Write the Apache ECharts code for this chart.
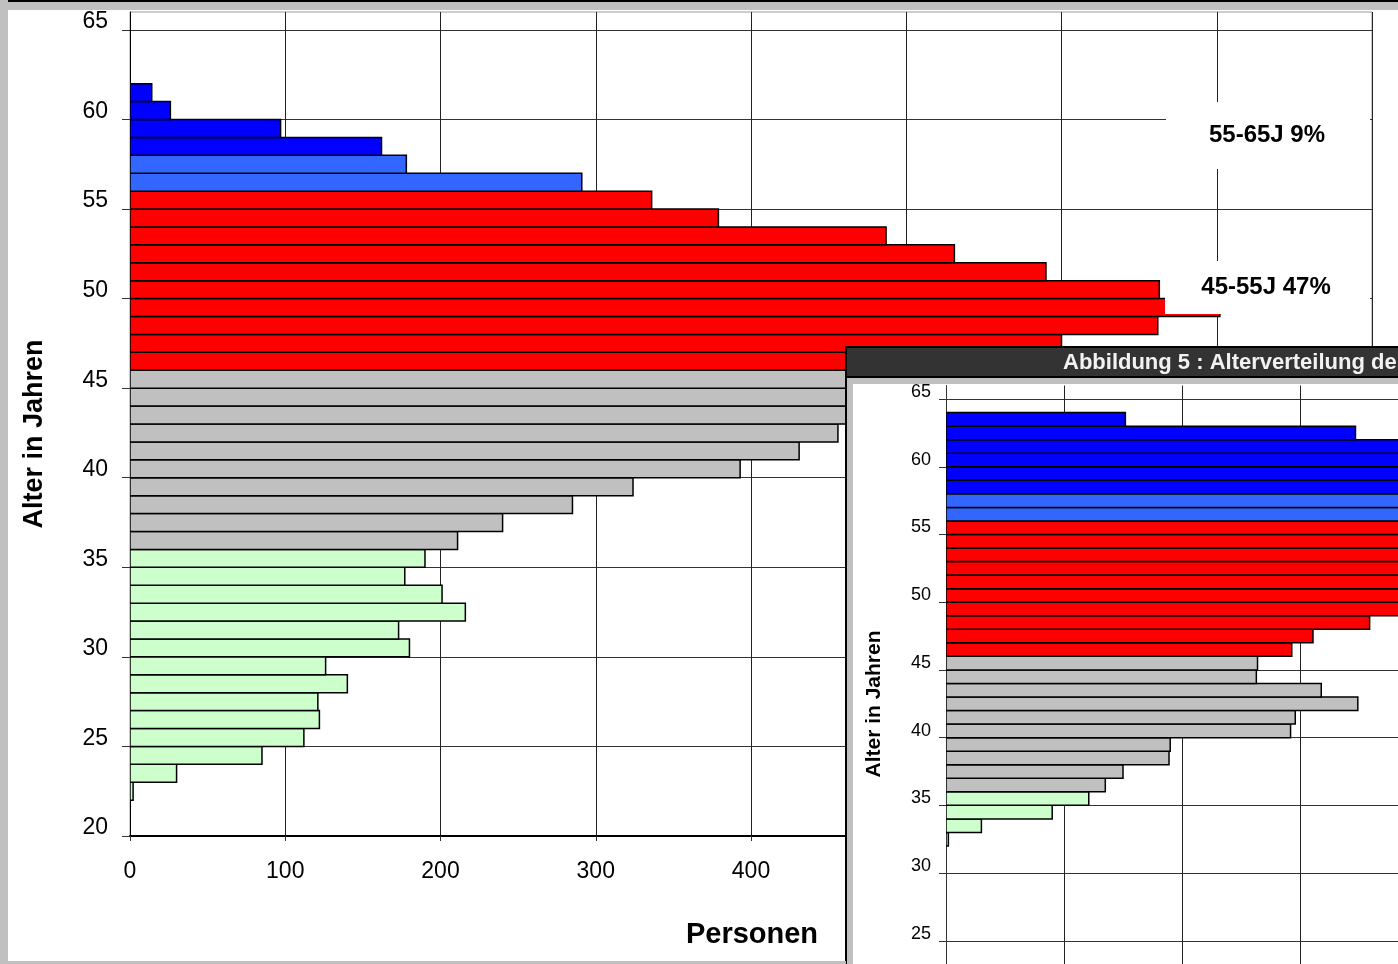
<!DOCTYPE html>
<html>
<head>
<meta charset="utf-8">
<script src="https://cdn.jsdelivr.net/npm/echarts@6/dist/echarts.min.js"></script>
<style>
    html, body { margin: 0; padding: 0; background: #fff; }
    #chart { width: 1398px; height: 964px; }
</style>
</head>
<body>
<div id="chart"></div>
<script>
// y axis tick labels (age in years)
var yTicks = [20, 25, 30, 35, 40, 45, 50, 55, 60, 65];

// main chart: persons per age year
var mainAges = [22, 23, 24, 25, 26, 27, 28, 29, 30, 31, 32, 33, 34, 35, 36, 37, 38, 39, 40, 41,
                42, 43, 44, 45, 46, 47, 48, 49, 50, 51, 52, 53, 54, 55, 56, 57, 58, 59, 60, 61];
var mainCounts = [2, 30, 85, 112, 122, 121, 140, 126, 180, 173, 216, 201, 177, 190, 211, 240, 285, 324, 393, 431,
                  456, 480, 510, 540, 610, 600, 662, 702, 663, 590, 531, 487, 379, 336, 291, 178, 162, 97, 26, 14];

// overlapping window (Abbildung 5)
var insetAges = [32, 33, 34, 35, 36, 37, 38, 39, 40, 41, 42, 43, 44, 45, 46, 47,
                 48, 49, 50, 51, 52, 53, 54, 55, 56, 57, 58, 59, 60, 61, 62, 63];
var insetCounts = [2, 30, 90, 121, 135, 150, 189, 190, 292, 296, 349, 318, 263, 264, 293, 311,
                   359, 420, 460, 500, 520, 540, 560, 580, 560, 520, 480, 450, 430, 400, 347, 152];

var groupLabels = ['55-65J 9%', '45-55J 47%'];
var insetTitle = 'Abbildung 5 : Alterverteilung der';

function ageColor(age) {
    if (age >= 58) return '#0000ff';
    if (age >= 56) return '#3366ff';
    if (age >= 46) return '#ff0000';
    if (age >= 36) return '#c0c0c0';
    return '#ccffcc';
}

function barItem(params, api) {
    var age = api.value(0);
    var p0 = api.coord([0, age + 1]);
    var p1 = api.coord([api.value(1), age]);
    return {
        type: 'rect',
        shape: {x: p0[0], y: p0[1], width: p1[0] - p0[0], height: p1[1] - p0[1]},
        style: {fill: ageColor(age), stroke: '#000', lineWidth: 1.5}
    };
}

function pairs(ages, counts) {
    return ages.map(function (a, i) { return [a, counts[i]]; });
}

function ageLabel(v) {
    return yTicks.indexOf(v) >= 0 ? String(v) : '';
}

var font = "'Liberation Sans', Arial, sans-serif";

var option = {
    animation: false,
    backgroundColor: '#fff',
    textStyle: {fontFamily: font},
    grid: [
        {left: 130, top: 12, width: 1242, height: 824, outerBoundsMode: 'none', containLabel: false,
         show: true, borderColor: '#999', borderWidth: 1, backgroundColor: 'transparent'},
        {left: 946, top: 385.5, width: 944, height: 623, outerBoundsMode: 'none', containLabel: false}
    ],
    xAxis: [
        {
            gridIndex: 0, type: 'value', min: 0, max: 800, interval: 100,
            axisLine: {show: true, lineStyle: {color: '#000', width: 2}},
            axisTick: {show: true, length: 5, lineStyle: {color: '#333'}},
            axisLabel: {fontSize: 23, color: '#000', margin: 24},
            splitLine: {show: true, lineStyle: {color: '#222', width: 1}}
        },
        {
            gridIndex: 1, type: 'value', min: 0, max: 800, interval: 100, z: 11,
            axisLine: {show: false}, axisTick: {show: false}, axisLabel: {show: false},
            splitLine: {show: true, lineStyle: {color: '#222', width: 1}}
        }
    ],
    yAxis: [
        {
            gridIndex: 0, type: 'value', min: 20, max: 66, interval: 5,
            axisLine: {show: true, onZero: false, lineStyle: {color: '#000', width: 1}},
            axisTick: {show: true, length: 8, customValues: yTicks, lineStyle: {color: '#333'}},
            axisLabel: {fontSize: 23, color: '#000', margin: 22, verticalAlign: 'bottom', lineHeight: 16,
                        customValues: yTicks, formatter: ageLabel},
            splitLine: {show: true, lineStyle: {color: '#333', width: 1}}
        },
        {
            gridIndex: 1, type: 'value', min: 20, max: 66, interval: 5, z: 11,
            axisLine: {show: true, onZero: false, lineStyle: {color: '#333', width: 1}},
            axisTick: {show: true, length: 7, customValues: yTicks, lineStyle: {color: '#333'}},
            axisLabel: {fontSize: 18, color: '#000', margin: 15, verticalAlign: 'bottom', lineHeight: 14,
                        customValues: yTicks, formatter: ageLabel},
            splitLine: {show: true, lineStyle: {color: '#333', width: 1}}
        }
    ],
    series: [
        {
            type: 'custom', name: 'Personen', xAxisIndex: 0, yAxisIndex: 0, z: 2, clip: true,
            renderItem: barItem, encode: {x: 1, y: 0},
            data: pairs(mainAges, mainCounts)
        },
        {
            type: 'custom', name: 'Abbildung 5', xAxisIndex: 1, yAxisIndex: 1, z: 12, clip: true,
            renderItem: barItem, encode: {x: 1, y: 0},
            data: pairs(insetAges, insetCounts)
        }
    ],
    graphic: [
        // group labels on the main chart
        {type: 'rect', z: 5, shape: {x: 1166, y: 102, width: 204, height: 67}, style: {fill: '#fff'}},
        {type: 'text', z: 6, x: 1267, y: 135, style: {text: groupLabels[0], font: 'bold 24px ' + font, fill: '#000', align: 'center', verticalAlign: 'middle'}},
        {type: 'rect', z: 5, shape: {x: 1165, y: 261, width: 205, height: 53}, style: {fill: '#fff'}},
        {type: 'text', z: 6, x: 1266, y: 287, style: {text: groupLabels[1], font: 'bold 24px ' + font, fill: '#000', align: 'center', verticalAlign: 'middle'}},

        // axis names of the main chart
        {type: 'text', z: 6, x: 35, y: 434, rotation: Math.PI / 2, style: {text: 'Alter in Jahren', font: 'bold 27px ' + font, fill: '#000', align: 'center', verticalAlign: 'middle'}},
        {type: 'text', z: 6, x: 752, y: 935, style: {text: 'Personen', font: 'bold 29px ' + font, fill: '#000', align: 'center', verticalAlign: 'middle'}},

        // overlapping window
        {type: 'rect', z: 10, shape: {x: 846, y: 347, width: 552, height: 617}, style: {fill: '#c0c0c0'}},
        {type: 'rect', z: 10, shape: {x: 853, y: 384, width: 545, height: 580}, style: {fill: '#fff'}},
        {type: 'rect', z: 10, shape: {x: 846, y: 347, width: 560, height: 30}, style: {fill: '#333', stroke: '#000', lineWidth: 2}},
        {type: 'rect', z: 10, shape: {x: 845, y: 347, width: 2, height: 617}, style: {fill: '#000'}},
        {type: 'text', z: 10, x: 1063, y: 363, style: {text: insetTitle, font: 'bold 22px ' + font, fill: '#f2f2f2', verticalAlign: 'middle'}},
        {type: 'text', z: 13, x: 874, y: 704, rotation: Math.PI / 2, style: {text: 'Alter in Jahren', font: 'bold 21px ' + font, fill: '#000', align: 'center', verticalAlign: 'middle'}},

        // outer frame
        {type: 'rect', z: 30, shape: {x: 0, y: 0, width: 1398, height: 10}, style: {fill: '#c0c0c0'}},
        {type: 'rect', z: 30, shape: {x: 0, y: 0, width: 1398, height: 2}, style: {fill: '#000'}},
        {type: 'rect', z: 30, shape: {x: 0, y: 0, width: 8, height: 964}, style: {fill: '#c0c0c0'}},
        {type: 'rect', z: 30, shape: {x: 0, y: 961, width: 846, height: 3}, style: {fill: '#c0c0c0'}}
    ]
};

var myChart = echarts.init(document.getElementById('chart'));
myChart.setOption(option);
</script>
</body>
</html>
